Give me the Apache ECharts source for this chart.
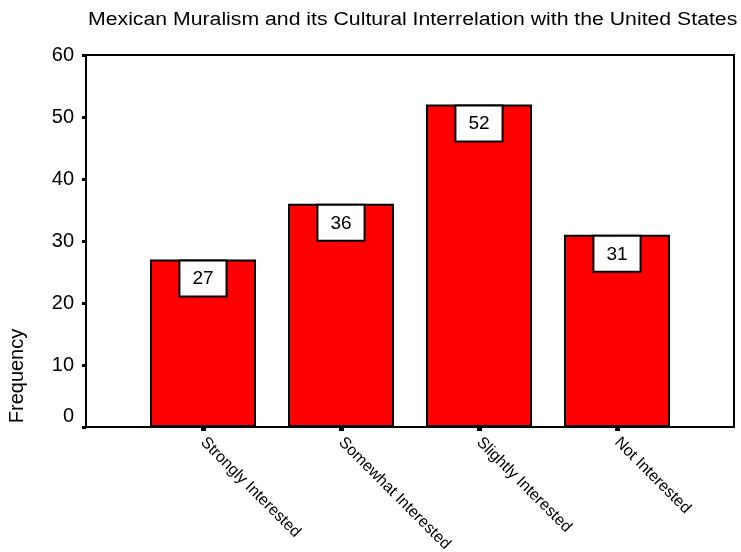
<!DOCTYPE html>
<html>
<head>
<meta charset="utf-8">
<script src="https://cdn.jsdelivr.net/npm/echarts@6/dist/echarts.min.js"></script>
<style>
  html, body { margin: 0; padding: 0; background: #fff; }
  #chart { width: 741px; height: 552px; }
</style>
</head>
<body>
<div id="chart"></div>
<script>
// Survey responses: interest in Mexican muralism
const chartTitle = 'Mexican Muralism and its Cultural Interrelation with the United States';
const yAxisTitle = 'Frequency';
const categories = ['Strongly Interested', 'Somewhat Interested', 'Slightly Interested', 'Not Interested'];
const frequencies = [27, 36, 52, 31];
const yMin = 0;
const yMax = 60;
const yStep = 10;

const baseFont = "'Liberation Sans', Arial, sans-serif";

const chart = echarts.init(document.getElementById('chart'), null, { renderer: 'canvas' });

chart.setOption({
  backgroundColor: '#fff',
  animation: false,
  graphic: [
    {
      type: 'text',
      x: 88,
      y: 11,
      scaleX: 1.18,
      style: {
        text: chartTitle,
        font: '18px ' + baseFont,
        fill: '#000',
        textVerticalAlign: 'top'
      }
    },
    {
      type: 'text',
      x: 17,
      y: 376,
      rotation: Math.PI / 2,
      style: {
        text: yAxisTitle,
        font: '20px ' + baseFont,
        fill: '#000',
        textAlign: 'center',
        textVerticalAlign: 'middle'
      }
    }
  ],
  grid: [
    // framed plot area
    { left: 86, right: 7, top: 55, bottom: 125, outerBoundsMode: 'none', containLabel: false,
      show: true, borderColor: '#000', borderWidth: 2, backgroundColor: 'transparent' },
    // band that holds the bars
    { left: 134, width: 552, top: 55, bottom: 125, outerBoundsMode: 'none', containLabel: false }
  ],
  xAxis: [
    { gridIndex: 0, type: 'value', min: 0, max: 1, show: false },
    {
      gridIndex: 1,
      type: 'category',
      data: categories,
      axisLine: { show: false },
      axisTick: { show: true, alignWithLabel: true, length: 4, lineStyle: { color: '#000', width: 5 } },
      axisLabel: {
        rotate: -45,
        margin: 13,
        color: '#000',
        fontSize: 16,
        fontFamily: baseFont,
        interval: 0
      },
      splitLine: { show: false }
    }
  ],
  yAxis: [
    {
      gridIndex: 0,
      type: 'value',
      min: yMin,
      max: yMax,
      interval: yStep,
      axisLine: { show: true, lineStyle: { color: '#000', width: 2 } },
      axisTick: { show: true, length: 4, lineStyle: { color: '#000', width: 3 } },
      axisLabel: {
        margin: 12,
        color: '#000',
        fontSize: 20,
        fontFamily: baseFont,
        formatter: v => (v === 0 ? '{z|0}' : String(v)),
        rich: { z: { fontSize: 20, fontFamily: baseFont, color: '#000', padding: [0, 0, 21, 0] } }
      },
      splitLine: { show: false }
    },
    { gridIndex: 1, type: 'value', min: yMin, max: yMax, interval: yStep, show: false }
  ],
  series: [
    {
      type: 'bar',
      xAxisIndex: 1,
      yAxisIndex: 1,
      data: frequencies,
      barWidth: 106,
      itemStyle: { color: '#ff0000', borderColor: '#000', borderWidth: 2 },
      label: {
        show: true,
        position: 'insideTop',
        distance: 2,
        color: '#000',
        fontSize: 19,
        fontFamily: baseFont,
        backgroundColor: '#fff',
        borderColor: '#000',
        borderWidth: 2,
        padding: [8, 12, 7, 12]
      }
    }
  ]
});
</script>
</body>
</html>
